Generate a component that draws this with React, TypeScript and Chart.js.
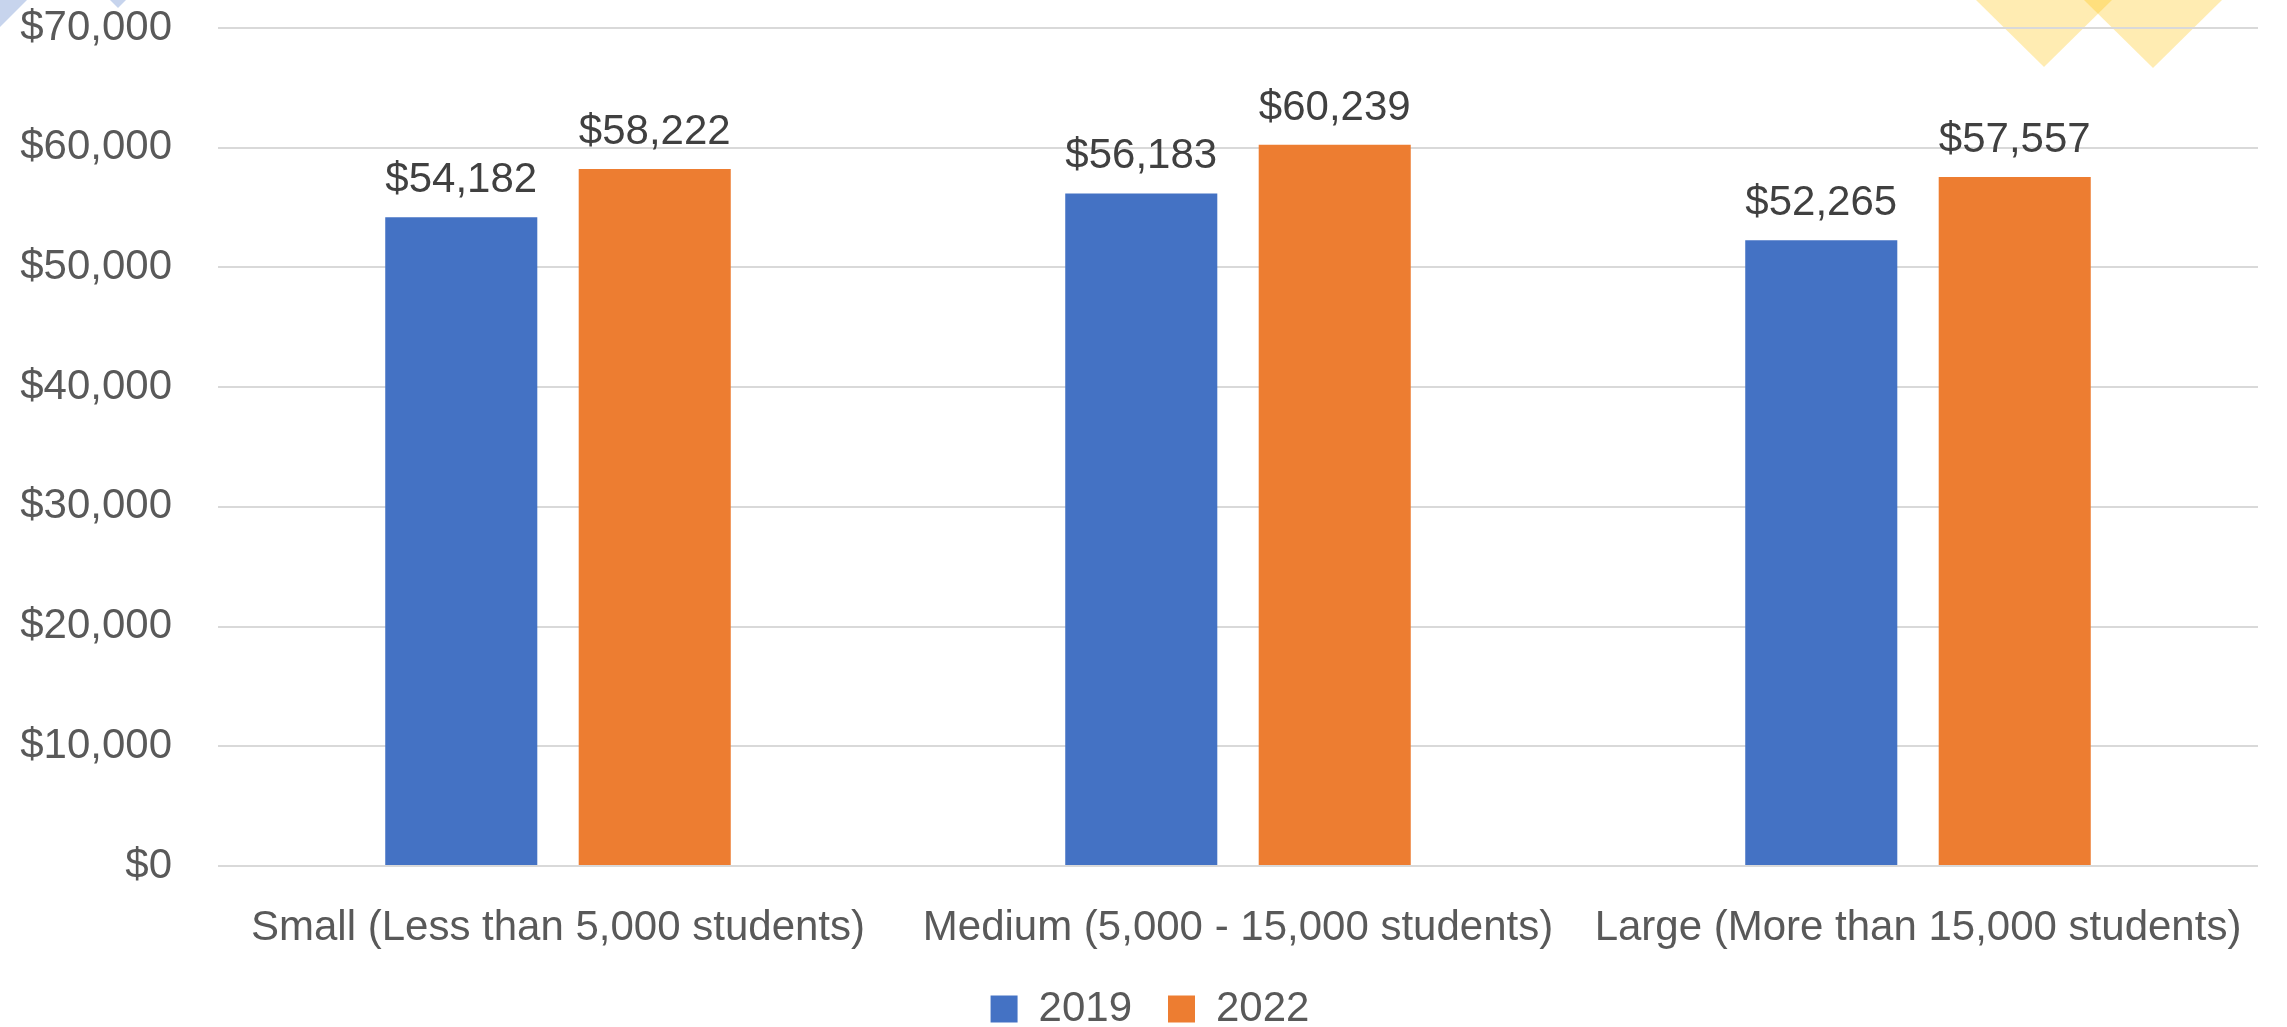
import React, { useEffect, useRef } from "react";
import { Chart, registerables } from "chart.js";

Chart.register(...registerables);

const categories = [
  "Small (Less than 5,000 students)",
  "Medium (5,000 - 15,000 students)",
  "Large (More than 15,000 students)",
];
const seriesLabels = ["2019", "2022"];
const values2019 = [54182, 56183, 52265];
const values2022 = [58222, 60239, 57557];
const yMin = 0;
const yMax = 70000;
const yStep = 10000;

const FONT = "'Liberation Sans', Arial, sans-serif";
const money = (v: number) => "$" + Number(v).toLocaleString("en-US");

const decorPlugin = {
  id: "decor",
  beforeDraw(chart: any) {
    const ctx = chart.ctx;
    ctx.save();
    ctx.fillStyle = "rgba(68,114,196,0.3)";
    ctx.beginPath();
    ctx.moveTo(0, 0);
    ctx.lineTo(27, 0);
    ctx.lineTo(0, 27);
    ctx.closePath();
    ctx.fill();
    ctx.beginPath();
    ctx.moveTo(110, 0);
    ctx.lineTo(126, 0);
    ctx.lineTo(118, 8);
    ctx.closePath();
    ctx.fill();
    ctx.fillStyle = "rgba(255,192,0,0.3)";
    ctx.beginPath();
    ctx.moveTo(1976, 0);
    ctx.lineTo(2112, 0);
    ctx.lineTo(2044, 67);
    ctx.closePath();
    ctx.fill();
    ctx.beginPath();
    ctx.moveTo(2084, 0);
    ctx.lineTo(2222, 0);
    ctx.lineTo(2153, 68);
    ctx.closePath();
    ctx.fill();
    ctx.restore();
  },
};

const legendShiftPlugin = {
  id: "legendShift",
  afterLayout(chart: any) {
    if (chart.legend) {
      chart.legend.left += 42;
    }
  },
};

const valueLabelPlugin = {
  id: "valueLabels",
  afterDatasetsDraw(chart: any) {
    const ctx = chart.ctx;
    ctx.save();
    ctx.font = `42px ${FONT}`;
    ctx.fillStyle = "#404040";
    ctx.textAlign = "center";
    ctx.textBaseline = "alphabetic";
    chart.data.datasets.forEach((ds: any, di: number) => {
      const meta = chart.getDatasetMeta(di);
      meta.data.forEach((bar: any, i: number) => {
        ctx.fillText(money(ds.data[i]), bar.x, bar.y - 25);
      });
    });
    ctx.restore();
  },
};

export default function App() {
  const ref = useRef<HTMLCanvasElement | null>(null);

  useEffect(() => {
    document.body.style.margin = "0";
    document.body.style.overflow = "hidden";
    const canvas = ref.current;
    if (!canvas) return;
    const chart = new Chart(canvas, {
      type: "bar",
      data: {
        labels: categories,
        datasets: [
          {
            label: seriesLabels[0],
            data: values2019,
            backgroundColor: "#4472C4",
            categoryPercentage: 0.569,
            barPercentage: 0.786,
          },
          {
            label: seriesLabels[1],
            data: values2022,
            backgroundColor: "#ED7D31",
            categoryPercentage: 0.569,
            barPercentage: 0.786,
          },
        ],
      },
      options: {
        responsive: false,
        animation: false,
        devicePixelRatio: 1,
        layout: { padding: { left: 0, right: 29, top: 28, bottom: -13 } },
        plugins: {
          tooltip: { enabled: false },
          legend: {
            position: "bottom",
            align: "center",
            labels: {
              font: { family: FONT, size: 42 },
              color: "#595959",
              boxWidth: 27,
              boxHeight: 27,
              padding: 36,
            },
          },
        },
        scales: {
          x: {
            grid: { display: false, drawTicks: false },
            border: { display: false },
            ticks: {
              font: { family: FONT, size: 42 },
              color: "#595959",
              padding: 37,
              maxRotation: 0,
              minRotation: 0,
              autoSkip: false,
            },
            afterFit(scale: any) {
              scale.height = 86;
              scale.paddingLeft = 0;
              scale.paddingRight = 0;
            },
          },
          y: {
            min: yMin,
            max: yMax,
            grid: { color: "#d9d9d9", lineWidth: 2, drawTicks: false },
            border: { display: false },
            ticks: {
              stepSize: yStep,
              font: { family: FONT, size: 42 },
              color: "#595959",
              padding: 46,
              callback: (v: any) => money(v),
            },
            afterFit(scale: any) {
              scale.width = 218;
              scale.paddingTop = 0;
              scale.paddingBottom = 0;
            },
          },
        },
      },
      plugins: [decorPlugin, legendShiftPlugin, valueLabelPlugin],
    });
    return () => chart.destroy();
  }, []);

  return (
    <div style={{ width: 2287, height: 1027 }}>
      <canvas ref={ref} width={2287} height={1027} style={{ display: "block" }} />
    </div>
  );
}
